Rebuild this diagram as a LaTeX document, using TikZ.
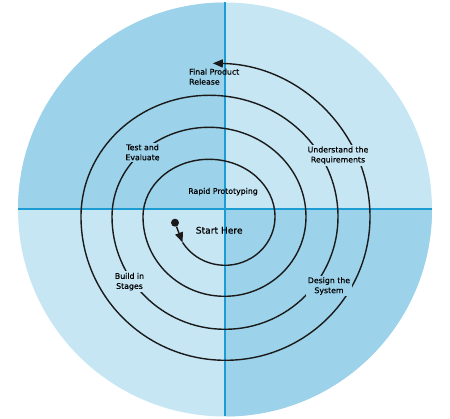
\documentclass[tikz,border=0pt]{standalone}
\usepackage{fontspec}
\setmainfont{DejaVu Sans}
\newfontfamily\labelfont{DejaVu Sans}[FakeBold=0.5]
\usepackage{tikz}
\usetikzlibrary{arrows.meta}
\definecolor{quadDark}{RGB}{156,210,234}
\definecolor{quadLight}{RGB}{198,230,244}
\definecolor{divLine}{RGB}{28,156,210}
\definecolor{spiralInk}{RGB}{26,26,26}

\begin{document}
\begin{tikzpicture}[
		x=1pt, y=1pt,
		>={Triangle[length=10pt, width=8pt]},
		spiral/.style={line width=1.4pt, draw=spiralInk},
		phase/.style={align=center, text=black, inner sep=1.5pt,
			font=\labelfont\fontsize{7.8}{10}\selectfont}
	]
	\useasboundingbox (0,0) rectangle (450,419);

	\coordinate (hub) at (225,209.5);
	\coordinate (west) at (18,209.5);
	\coordinate (east) at (432,209.5);
	\coordinate (north) at (225,416.5);
	\coordinate (south) at (225,2.5);

	\fill[quadLight] (hub) circle[radius=207];
	\fill[quadDark] (hub) -- (west) arc[start angle=180, end angle=90, radius=207] -- cycle;
	\fill[quadDark] (hub) -- (east) arc[start angle=0, end angle=-90, radius=207] -- cycle;

	\draw[divLine, line width=2pt] (west) -- (east);
	\draw[divLine, line width=2pt] (north) -- (south);

	\node[circle, fill=spiralInk, inner sep=0pt, minimum size=8pt] (dot) at (175,196.3) {};
	\coordinate (s1) at (182.6,176.5);

	\draw[spiral, ->] (dot) -- (s1);
	\draw[spiral, ->] (s1)
		arc[start angle=212, end angle=360, x radius=50, y radius=48.5]
		arc[start angle=0, end angle=180, x radius=66, y radius=57.5]
		arc[start angle=180, end angle=360, x radius=81.5, y radius=79.5]
		arc[start angle=0, end angle=180, x radius=97, y radius=89.5]
		arc[start angle=180, end angle=360, x radius=113, y radius=112.5]
		arc[start angle=0, end angle=180, x radius=128.5, y radius=121.5]
		arc[start angle=180, end angle=360, x radius=144.5, y radius=143.5]
		arc[start angle=0, end angle=89, x radius=160, y radius=153.5];

	\node[phase, anchor=west, align=left] (release) at (187.5,342.3) {Final Product\\Release};
	\node[phase, fill=quadDark] (test) at (142.5,266.7) {Test and\\Evaluate};
	\node[phase, fill=quadLight] (reqs) at (338,263.7) {Understand the\\Requirements};
	\node[phase] (proto) at (223,227.3) {Rapid Prototyping};
	\node[phase, font=\labelfont\fontsize{9.1}{11}\selectfont] (starthere) at (219.2,188.7) {Start Here};
	\node[phase, fill=quadLight] (stages) at (129.5,137.3) {Build in\\Stages};
	\node[phase, fill=quadDark] (design) at (329,133) {Design the\\System};
\end{tikzpicture}
\end{document}
